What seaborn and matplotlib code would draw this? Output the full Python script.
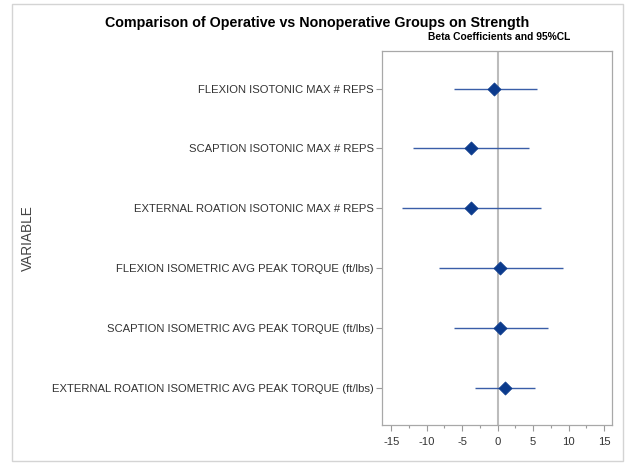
import numpy as np
import pandas as pd
import seaborn as sns
import matplotlib.pyplot as plt
from matplotlib.patches import Rectangle
from matplotlib.ticker import MultipleLocator

variables = [
    "FLEXION ISOTONIC MAX # REPS",
    "SCAPTION ISOTONIC MAX # REPS",
    "EXTERNAL ROATION ISOTONIC MAX # REPS",
    "FLEXION ISOMETRIC AVG PEAK TORQUE (ft/lbs)",
    "SCAPTION ISOMETRIC AVG PEAK TORQUE (ft/lbs)",
    "EXTERNAL ROATION ISOMETRIC AVG PEAK TORQUE (ft/lbs)",
]
beta = [-0.5, -3.8, -3.7, 0.4, 0.4, 1.0]
lower = [-6.2, -12.0, -13.5, -8.2, -6.2, -3.2]
upper = [5.6, 4.4, 6.1, 9.2, 7.1, 5.3]

df = pd.DataFrame({"VARIABLE": variables, "beta": beta, "lower": lower, "upper": upper})

sns.set_style("white")
plt.rcParams['font.family'] = ['Liberation Sans', 'DejaVu Sans']
plt.rcParams['axes.unicode_minus'] = False

fig = plt.figure(figsize=(6.33, 4.71), dpi=100)
ax = fig.add_axes([0.6035, 0.0977, 0.3641, 0.793])

ax.axvline(0, color='#bcbcbc', lw=1.5, zorder=1)
ax.hlines(df["VARIABLE"], df["lower"], df["upper"], color='#3a5ea8', lw=1.0, zorder=2)
sns.scatterplot(data=df, x="beta", y="VARIABLE", marker='D', s=45, color='#0b3a8c',
                edgecolor='#0b3a8c', linewidth=0.5, ax=ax, zorder=3)

ax.set_ylim(len(variables) - 1 + 0.62, -0.62)
ax.set_xlim(-16.3, 16.2)
ax.xaxis.set_major_locator(MultipleLocator(5))
ax.xaxis.set_minor_locator(MultipleLocator(2.5))
ax.tick_params(axis='both', which='major', length=4, width=0.8, color='#9a9a9a',
               labelsize=8.1, labelcolor='#333333', bottom=True, left=True)
ax.tick_params(axis='x', which='major', pad=4.5)
ax.tick_params(axis='y', which='major', pad=2)
ax.tick_params(axis='x', which='minor', length=2.5, width=0.8, color='#9a9a9a', bottom=True)
ax.set_xlabel("")
ax.set_ylabel("")
for sp in ax.spines.values():
    sp.set_color('#a8a8a8')
    sp.set_linewidth(0.9)

fig.text(28 / 633, 0.5 * (0.0977 + 0.8907), "VARIABLE", rotation=90, ha='center', va='center',
         fontsize=9.8, color='#444444')

fig.text(317 / 633, 1 - 27 / 471, "Comparison of Operative vs Nonoperative Groups on Strength",
         ha='center', va='baseline', fontsize=10.3, fontweight='bold', color='black')
fig.text(570 / 633, 1 - 40 / 471, "Beta Coefficients and 95%CL",
         ha='right', va='baseline', fontsize=7.4, fontweight='bold', color='black')

fig.patches.append(Rectangle((11.7 / 633, 1 - 461 / 471), (623 - 11.7) / 633, (461 - 4.3) / 471,
                             transform=fig.transFigure, fill=False, edgecolor='#d4d4d4', lw=1.0))

fig.savefig("out.png", dpi=100, facecolor='white')
